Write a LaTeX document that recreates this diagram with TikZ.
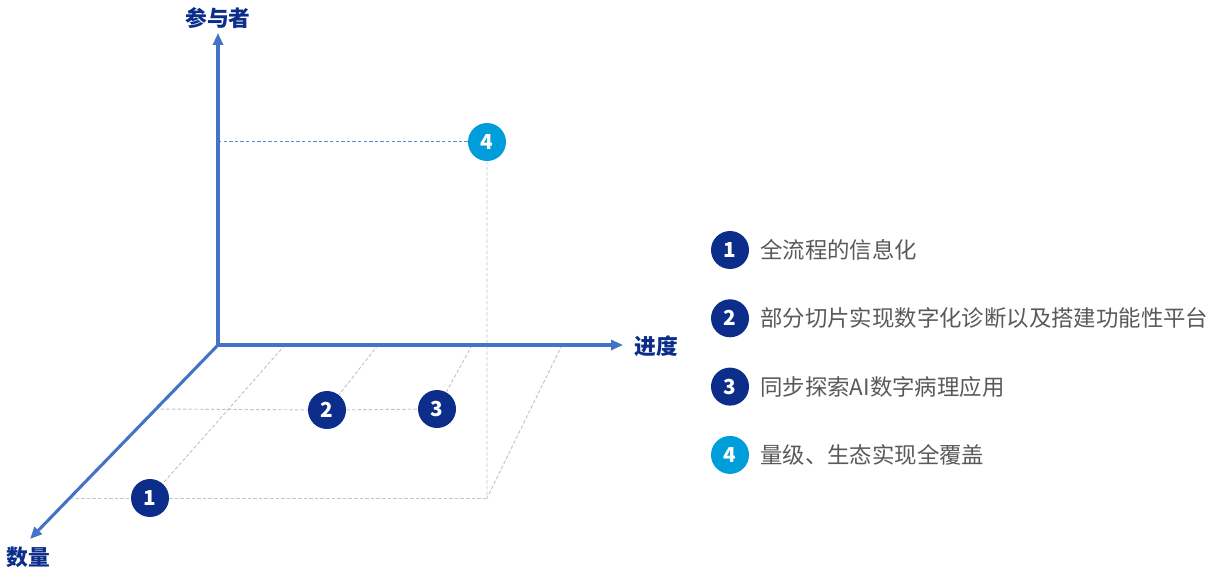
\documentclass[tikz,border=0pt]{standalone}
\usepackage{fontspec}
\newfontfamily\cjk{Noto Sans CJK SC}
\usetikzlibrary{arrows.meta,positioning}
\definecolor{axisblue}{RGB}{68,114,196}
\definecolor{linkblue}{RGB}{90,135,225}
\definecolor{navy}{RGB}{12,46,138}
\definecolor{skyblue}{RGB}{0,157,219}
\definecolor{textgray}{RGB}{89,89,89}
\definecolor{gridgray}{RGB}{195,195,195}
\tikzset{
  axis/.style={axisblue,line width=2.3pt,-{Triangle[length=9pt,width=7.5pt]}},
  axislabel/.style={text=navy,font=\cjk\bfseries\fontsize{16.3}{18}\selectfont},
  gridline/.style={gridgray,line width=0.7pt,dash pattern=on 2.6pt off 1.6pt},
  dot/.style={circle,fill=navy,minimum size=28.5pt,inner sep=0pt,text=white,
    font=\cjk\bfseries\fontsize{15.5}{17}\selectfont},
  legendtext/.style={text=textgray,anchor=west,inner sep=0pt,
    font=\cjk\fontsize{16.8}{18}\selectfont}
}

\begin{document}
\begin{tikzpicture}[x=0.75pt,y=-0.75pt]
\useasboundingbox (0,0) rectangle (1219,574);
% axes and floor points
\coordinate (O) at (218,345);
\coordinate (ytip) at (218,33);
\coordinate (xtip) at (623,345);
\coordinate (ztip) at (30,539);
\coordinate (z1) at (155,409);
\coordinate (z2) at (70,498);
\coordinate (c) at (487,498);
\foreach \i/\x in {1/285,2/378,3/472,4/562}
  \coordinate (t\i) at (\x,345);
\node[dot] (p1) at (150,498) {1};
\node[dot] (p2) at (327,410) {2};
\node[dot] (p3) at (437,409) {3};
\node[dot,fill=skyblue] (p4) at (487,142) {4};
% dashed grid
\draw[gridline] (t1) -- (p1);
\draw[gridline] (t2) -- (p2);
\draw[gridline] (t3) -- (p3);
\draw[gridline] (t4) -- (c) -- (p4);
\draw[gridline] (z1) -- (p2) -- (p3);
\draw[gridline] (z2) -- (p1) -- (c);
\draw[linkblue,line width=0.75pt,dash pattern=on 2.6pt off 1.6pt] (O |- p4) -- (p4);
% axes
\draw[axis] (O) -- (ytip);
\draw[axis] (O) -- (xtip);
\draw[axis] (O) -- (ztip);
\node[axislabel] (ylab) at (218,18) {参与者};
\node[axislabel] (xlab) at (656,346) {进度};
\node[axislabel] (zlab) at (28,557) {数量};
% legend
\foreach \n/\c/\t [evaluate=\n as \y using {250+68.3*(\n-1)}] in {
    1/navy/全流程的信息化,
    2/navy/部分切片实现数字化诊断以及搭建功能性平台,
    3/navy/同步探索AI数字病理应用,
    4/skyblue/量级、生态实现全覆盖}{
  \node[dot,fill=\c] (k\n) at (730,\y) {\n};
  \node[legendtext] (l\n) at (760,\y) {\t};
}
\end{tikzpicture}
\end{document}
